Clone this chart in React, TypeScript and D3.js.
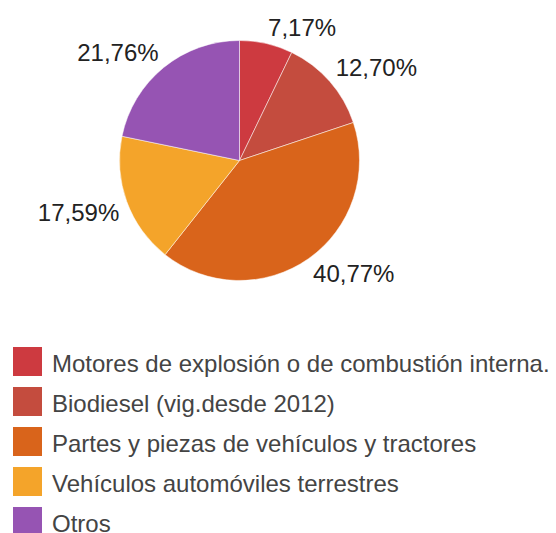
import React, { useEffect, useRef } from 'react';
import * as d3 from 'd3';

const categories = [
  'Motores de explosión o de combustión interna.',
  'Biodiesel (vig.desde 2012)',
  'Partes y piezas de vehículos y tractores',
  'Vehículos automóviles terrestres',
  'Otros',
];
const shares = [7.17, 12.7, 40.77, 17.59, 21.76];
const colors = ['#cd3a40', '#c44c3e', '#d9641b', '#f4a42a', '#9654b3'];

const App = () => {
  const ref = useRef<SVGSVGElement>(null);

  useEffect(() => {
    const width = 556;
    const height = 533;
    const cx = 239.5;
    const cy = 160.5;
    const r = 120;
    const labelR = r + 8;
    const capH = 17.2;

    const svg = d3.select(ref.current)
      .attr('width', width)
      .attr('height', height)
      .style('font-family', '"Liberation Sans", Arial, sans-serif');
    svg.selectAll('*').remove();

    const data = categories.map((c, i) => ({ name: c, value: shares[i], color: colors[i] }));
    const pie = d3.pie<any>().sort(null).value(d => d.value);
    const arcs = pie(data);
    const arc = d3.arc<any>().innerRadius(0).outerRadius(r);

    const g = svg.append('g').attr('transform', `translate(${cx},${cy})`);
    g.selectAll('path')
      .data(arcs)
      .enter()
      .append('path')
      .attr('d', arc)
      .attr('fill', d => d.data.color)
      .attr('stroke', '#ffffff')
      .attr('stroke-width', 0.5);

    // labels: nearest corner of text box sits on a circle just outside the pie
    g.selectAll('text.lbl')
      .data(arcs)
      .enter()
      .append('text')
      .attr('class', 'lbl')
      .each(function (d) {
        const a = (d.startAngle + d.endAngle) / 2;
        const sx = Math.sin(a);
        const cy2 = -Math.cos(a);
        const px = labelR * sx;
        const py = labelR * cy2;
        d3.select(this)
          .attr('x', px)
          .attr('y', cy2 < 0 ? py : py + capH)
          .attr('text-anchor', sx >= 0 ? 'start' : 'end');
      })
      .attr('font-size', 24)
      .attr('fill', '#222222')
      .text(d => d.data.value.toFixed(2).replace('.', ',') + '%');

    const y = d3.scaleBand()
      .domain(categories)
      .range([347, 547])
      .paddingInner(0);

    const legend = svg.append('g');
    const items = legend.selectAll('g')
      .data(data)
      .enter()
      .append('g')
      .attr('transform', d => `translate(13,${y(d.name)})`);
    items.append('rect')
      .attr('width', 29)
      .attr('height', 29)
      .attr('fill', d => d.color);
    items.append('text')
      .attr('x', 39)
      .attr('y', 24.5)
      .attr('font-size', 24)
      .attr('fill', '#444444')
      .text(d => d.name);
  }, []);

  return <svg ref={ref} style={{ position: 'absolute', left: 0, top: 0 }}></svg>;
};

export default App;
